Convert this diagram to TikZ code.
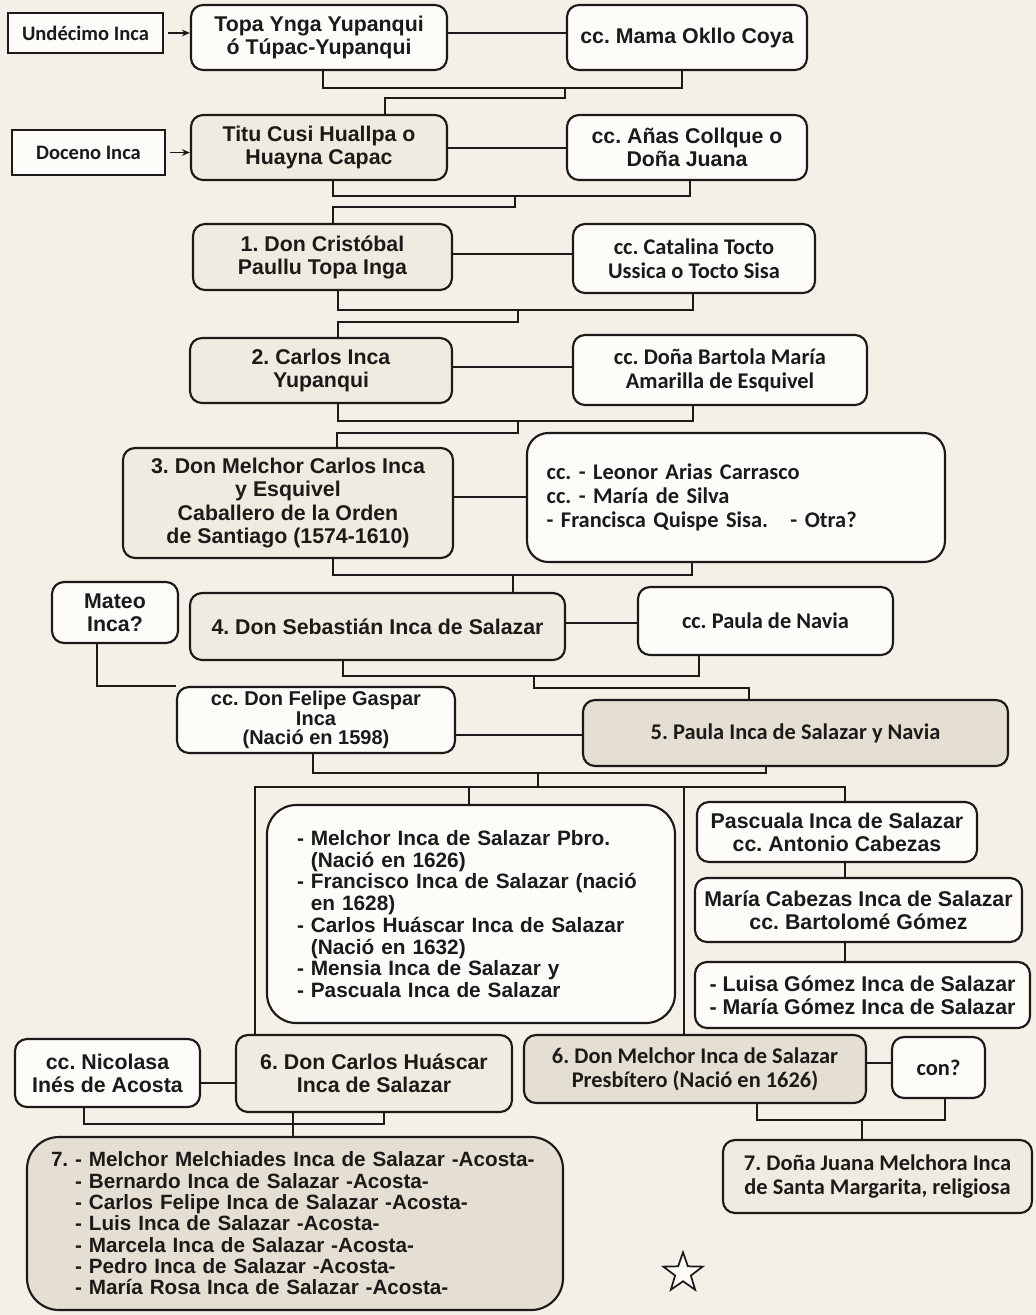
\documentclass[tikz,border=0pt]{standalone}
\usepackage{fontspec}
\setmainfont{Liberation Sans}
\newfontfamily\calfont{Carlito}
\usetikzlibrary{shapes.geometric,arrows.meta}
\definecolor{pagebg}{HTML}{F4F0E7}
\definecolor{boxw}{HTML}{FDFCF9}
\definecolor{boxc}{HTML}{F0EBE0}
\definecolor{boxg}{HTML}{E4DED3}
\definecolor{ink}{HTML}{1C1A18}
\newcommand\arf{\frenchspacing\bfseries\fontsize{16}{17.3}\selectfont}
\newcommand\clf{\frenchspacing\calfont\bfseries\fontsize{16.8}{18}\selectfont}
\newcommand\bx[7]{%
  \pgfmathsetmacro\bxw{(#4-#2)*0.75}%
  \pgfmathsetmacro\bxh{(#5-#3)*0.75}%
  \node[#6, minimum width=\bxw pt, minimum height=\bxh pt] (#1) at ({(#2+#4)/2},{(#3+#5)/2}) {#7};}
\begin{document}
\frenchspacing
\begin{tikzpicture}[x=0.75pt,y=-0.75pt,
  base/.style={draw=ink, line width=1.6pt, rounded corners=9pt, align=center, inner sep=0pt, text=ink, font=\arf},
  wbox/.style={base, fill=boxw},
  cbox/.style={base, fill=boxc},
  gbox/.style={base, fill=boxg},
  cal/.style={font=\clf},
  label/.style={draw=ink, line width=1.8pt, fill=boxw, inner sep=0pt, text=ink, font=\frenchspacing\calfont\bfseries\fontsize{15.4}{17}\selectfont},
  link/.style={draw=ink, line width=1.1pt},
  arr/.style={link, -{Stealth[length=6pt,width=5pt]}}
]
\useasboundingbox (0,0) rectangle (1036,1315);
\fill[pagebg] (0,0) rectangle (1036,1315);

% ---- boxes ----
\bx{und}{8}{13}{163}{53}{label}{Undécimo Inca}
\bx{topa}{191}{5}{447}{70}{wbox}{Topa Ynga Yupanqui\\ó Túpac-Yupanqui}
\bx{mama}{567}{5}{807}{70}{wbox}{cc. Mama Okllo Coya}
\bx{doc}{12}{130}{165}{175}{label}{Doceno Inca}
\bx{titu}{191}{115}{447}{180}{cbox}{Titu Cusi Huallpa o\\Huayna Capac}
\bx{anas}{567}{115}{807}{180}{wbox}{cc. Añas Collque o\\Doña Juana}
\bx{cris}{193}{224}{452}{290}{cbox}{1. Don Cristóbal\\Paullu Topa Inga}
\bx{cata}{573}{224}{815}{293}{wbox,cal}{cc. Catalina Tocto\\Ussica o Tocto Sisa}
\bx{carl}{190}{338}{452}{403}{cbox}{2. Carlos Inca\\Yupanqui}
\bx{bart}{573}{335}{867}{405}{wbox,cal}{cc. Doña Bartola María\\Amarilla de Esquivel}
\bx{melc}{123}{448}{453}{558}{cbox}{3. Don Melchor Carlos Inca\\y Esquivel\\Caballero de la Orden\\de Santiago (1574-1610)}
\bx{leon}{527}{433}{945}{562}{wbox,cal,rounded corners=16pt,align=left,text width=284pt}{cc. - Leonor Arias Carrasco\\cc. - María de Silva\\- Francisca Quispe Sisa.\ \ \ - Otra?}
\bx{mateo}{52}{582}{178}{643}{wbox}{Mateo\\Inca?}
\bx{seba}{190}{593}{565}{660}{cbox}{4. Don Sebastián Inca de Salazar}
\bx{navia}{638}{587}{893}{655}{wbox,cal}{cc. Paula de Navia}
\bx{feli}{177}{687}{455}{753}{wbox,font=\frenchspacing\bfseries\fontsize{15}{14.6}\selectfont}{cc. Don Felipe Gaspar\\Inca\\(Nació en 1598)}
\bx{paula}{583}{700}{1008}{766}{gbox,cal}{5. Paula Inca de Salazar y Navia}
\bx{kids}{267}{805}{675}{1023}{wbox,rounded corners=22pt,align=left,text width=261pt,font=\frenchspacing\bfseries\fontsize{15.6}{16.3}\selectfont}{- Melchor Inca de Salazar Pbro.\\\hphantom{- }(Nació en 1626)\\- Francisco Inca de Salazar (nació\\\hphantom{- }en 1628)\\- Carlos Huáscar Inca de Salazar\\\hphantom{- }(Nació en 1632)\\- Mensia Inca de Salazar y\\- Pascuala Inca de Salazar}
\bx{pasc}{697}{802}{977}{862}{wbox}{Pascuala Inca de Salazar\\cc. Antonio Cabezas}
\bx{mcab}{695}{878}{1022}{942}{wbox}{María Cabezas Inca de Salazar\\cc. Bartolomé Gómez}
\bx{luisa}{695}{962}{1030}{1028}{wbox}{- Luisa Gómez Inca de Salazar\\- María Gómez Inca de Salazar}
\bx{nico}{15}{1039}{200}{1107}{wbox}{cc. Nicolasa\\Inés de Acosta}
\bx{chua}{236}{1035}{512}{1112}{cbox}{6. Don Carlos Huáscar\\Inca de Salazar}
\bx{mel6}{524}{1035}{866}{1103}{gbox,cal}{6. Don Melchor Inca de Salazar\\Presbítero (Nació en 1626)}
\bx{con}{892}{1037}{985}{1098}{wbox,cal}{con?}
\bx{kidss}{27}{1137}{563}{1310}{gbox,rounded corners=24pt,align=left,text width=366pt,font=\frenchspacing\bfseries\fontsize{15.5}{16}\selectfont}{7. - Melchor Melchiades Inca de Salazar -Acosta-\\\hphantom{7. }- Bernardo Inca de Salazar -Acosta-\\\hphantom{7. }- Carlos Felipe Inca de Salazar -Acosta-\\\hphantom{7. }- Luis Inca de Salazar -Acosta-\\\hphantom{7. }- Marcela Inca de Salazar -Acosta-\\\hphantom{7. }- Pedro Inca de Salazar -Acosta-\\\hphantom{7. }- María Rosa Inca de Salazar -Acosta-}
\bx{juana}{723}{1140}{1032}{1213}{cbox,cal}{7. Doña Juana Melchora Inca\\de Santa Margarita, religiosa}
\node[star, star points=5, star point ratio=2.5, draw=ink, line width=1.3pt, fill=boxw, minimum size=31pt, inner sep=0pt] (star) at (683,1273) {};

% ---- arrows ----
\draw[arr] ([xshift=3pt]und.east) -- (topa.west |- und.east);
\draw[arr] ([xshift=3pt]doc.east) -- (titu.west |- doc.east);

% ---- couples ----
\draw[link] (topa.east |- 0,33) -- (mama.west |- 0,33);
\draw[link] (titu.east |- 0,148) -- (anas.west |- 0,148);
\draw[link] (cris.east |- 0,254) -- (cata.west |- 0,254);
\draw[link] (carl.east |- 0,367) -- (bart.west |- 0,367);
\draw[link] (melc.east |- 0,497) -- (leon.west |- 0,497);
\draw[link] (seba.east |- 0,623) -- (navia.west |- 0,623);
\draw[link] (feli.east |- 0,735) -- (paula.west |- 0,735);
\draw[link] (nico.east |- 0,1083) -- (chua.west |- 0,1083);
\draw[link] (mel6.east |- 0,1063) -- (con.west |- 0,1063);

% ---- descent ----
\draw[link] (323,0 |- topa.south) |- (682,88) -- (682,0 |- mama.south);
\draw[link] (565,88) -- (565,98) -| (385,0 |- titu.north);
\draw[link] (333,0 |- titu.south) |- (690,196) -- (690,0 |- anas.south);
\draw[link] (515,196) -- (515,207) -| (333,0 |- cris.north);
\draw[link] (338,0 |- cris.south) |- (693,310) -- (693,0 |- cata.south);
\draw[link] (518,310) -- (518,322) -| (338,0 |- carl.north);
\draw[link] (338,0 |- carl.south) |- (693,421) -- (693,0 |- bart.south);
\draw[link] (518,421) -- (518,433) -| (337,0 |- melc.north);
\draw[link] (333,0 |- melc.south) |- (692,575) -- (692,0 |- leon.south);
\draw[link] (513,575) -- (513,0 |- seba.north);
\draw[link] (343,0 |- seba.south) |- (699,676) -- (699,0 |- navia.south);
\draw[link] (534,676) -- (534,688) -| (749,0 |- paula.north);
\draw[link] (97,0 |- mateo.south) |- (feli.north west);
\draw[link] (313,0 |- feli.south) |- (766,773) -- (766,0 |- paula.south);
\draw[link] (538,773) -- (538,787);
\draw[link] (255,0 |- chua.north) |- (845,787) -- (845,0 |- pasc.north);
\draw[link] (469,787) -- (469,0 |- kids.north);
\draw[link] (684,787) -- (684,0 |- mel6.north);
\draw[link] (845,0 |- pasc.south) -- (845,0 |- mcab.north);
\draw[link] (845,0 |- mcab.south) -- (845,0 |- luisa.north);
\draw[link] (84,0 |- nico.south) |- (384,1124) -- (384,0 |- chua.south);
\draw[link] (293,0 |- chua.south) -- (293,0 |- kidss.north);
\draw[link] (757,0 |- mel6.south) |- (945,1120) -- (945,0 |- con.south);
\draw[link] (862,1120) -- (862,0 |- juana.north);
\end{tikzpicture}
\end{document}
